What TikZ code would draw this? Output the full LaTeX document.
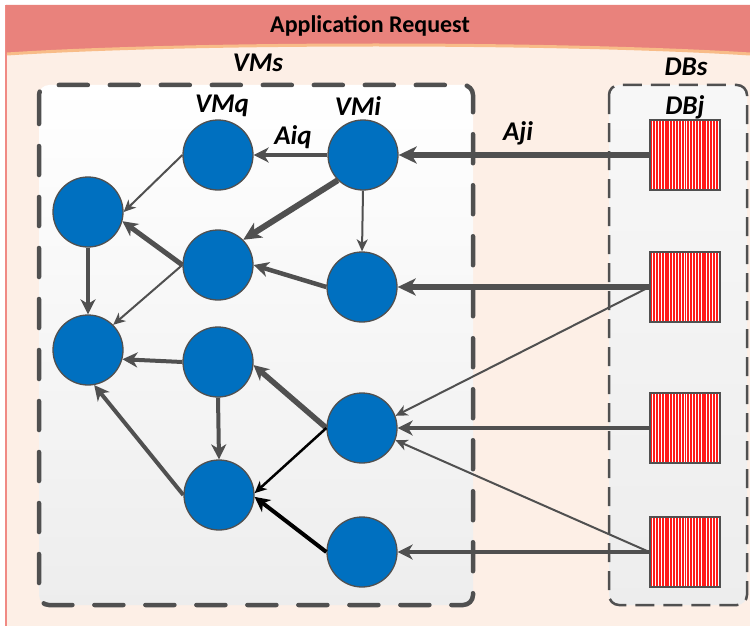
\documentclass[tikz,border=0pt]{standalone}
\usepackage{fontspec}
\setmainfont{Carlito}
\usetikzlibrary{arrows.meta}

\definecolor{edgegray}{HTML}{505050}
\definecolor{vmblue}{HTML}{0070C0}
\definecolor{banner}{HTML}{E9827C}
\definecolor{bannerline}{HTML}{F8BC88}
\definecolor{panel}{HTML}{FDEFE6}
\definecolor{panelline}{HTML}{F08A84}
\definecolor{stripered}{HTML}{FF1A1A}

\tikzset{
  vm/.style={circle, minimum size=70pt, inner sep=0pt, fill=vmblue,
    draw=edgegray, line width=1.3pt},
  db/.style={rectangle, minimum size=70pt, inner sep=0pt, fill=white,
    draw=edgegray, line width=1.3pt,
    path picture={\foreach \k in {0,...,24}{
      \fill[stripered] ([xshift=\k*2.85pt+0.3pt]path picture bounding box.south west)
        rectangle ++(1.95pt,75pt);}}},
  lbl/.style={font=\bfseries\itshape\fontsize{27}{27}\selectfont, inner sep=0pt},
  heavy/.style={draw=edgegray, line width=6pt,
    -{Stealth[length=18pt,width=17pt,inset=5pt]}},
  midw/.style={draw=edgegray, line width=#1,
    -{Stealth[length=15pt,width=15pt,inset=4.5pt]}},
  midw/.default=4pt,
  light/.style={draw=edgegray, line width=2pt,
    -{Stealth[length=12pt,width=11pt,inset=3.5pt]}},
}

\begin{document}
\begin{tikzpicture}[x=1pt, y=-1pt]
\useasboundingbox (0,0) rectangle (750,626);
\fill[white] (0,0) rectangle (750,626);

% outer panel and title banner
\fill[panel] (6,5) rectangle (750,626);
\draw[panelline, line width=1.6pt] (6,5) -- (6,626);
\fill[banner] (6,5) -- (750,5) -- (750,54)
  .. controls (560,42) and (190,42) .. (6,54) -- cycle;
\draw[bannerline, line width=3pt] (750,54)
  .. controls (560,42) and (190,42) .. (7,54);
\node[font=\bfseries\fontsize{24}{24}\selectfont, inner sep=0pt] (title) at (370,26) {Application Request};

% group boxes
\shade[top color=white, bottom color=black!7, rounded corners=10pt]
  (39,85) rectangle (473,605);
\draw[edgegray, line width=4.5pt, line cap=round, dash pattern=on 29pt off 22pt,
  rounded corners=10pt] (39,85) rectangle (473,605);
\shade[top color=black!3, bottom color=black!7, rounded corners=10pt]
  (609,85) rectangle (747,605);
\draw[edgegray, line width=2.5pt, dash pattern=on 19pt off 9pt,
  rounded corners=10pt] (609,85) rectangle (747,605);

\node[lbl] (vmslbl) at (258,63) {VMs};
\node[lbl] (dbslbl) at (686,67) {DBs};

% virtual machines
\node[vm] (vmq) at (218,155) {};
\node[vm] (vmi) at (363,155) {};
\node[vm] (l1)  at (88,212) {};
\node[vm] (m2)  at (218,265) {};
\node[vm] (r2)  at (362,287) {};
\node[vm] (l2)  at (88,350) {};
\node[vm] (m3)  at (218,362) {};
\node[vm] (r3)  at (362,428) {};
\node[vm] (m4)  at (219,495) {};
\node[vm] (r4)  at (362,552) {};

% databases
\node[db] (db1) at (685,155) {};
\node[db] (db2) at (685,287) {};
\node[db] (db3) at (685,428) {};
\node[db] (db4) at (685,552) {};

\node[lbl] (vmqlbl) at (222,106) {VMq};
\node[lbl] (vmilbl) at (358,106) {VMi};
\node[lbl] (dbjlbl) at (685,107) {DBj};
\node[lbl] (aiq) at (293,137) {Aiq};
\node[lbl] (aji) at (518,133) {Aji};

% links from the databases
\draw[heavy] (db1.west) -- (vmi.east);
\draw[heavy] (db2.west) -- (r2.east);
\draw[light] (db2.west) -- (r3.20);
\draw[midw] (db3.west) -- (r3.east);
\draw[light] (db4.west) -- (r3.-20);
\draw[midw] (db4.west) -- (r4.east);

% links between virtual machines
\draw[midw] (vmi.west) -- (vmq.east);
\draw[light] (vmq.west) -- (l1.east);
\draw[heavy] (vmi.south west) -- (m2.north east);
\draw[light] (vmi.south) -- (r2.north);
\draw[midw=4.5pt] (r2.west) -- (m2.east);
\draw[midw=5pt] (m2.west) -- (l1.-15);
\draw[light] (m2.west) -- (l2.north east);
\draw[midw] (l1.south) -- (l2.north);
\draw[midw] (m3.west) -- (l2.-15);
\draw[midw] (m3.south) -- (m4.north);
\draw[midw=5.5pt] (r3.west) -- (m3.-5);
\draw[light, draw=black, line width=2.5pt] (r3.west) -- (m4.3);
\draw[midw, draw=black] (r4.west) -- (m4.-3);
\draw[midw] (m4.west) -- (l2.-80);
\end{tikzpicture}
\end{document}
